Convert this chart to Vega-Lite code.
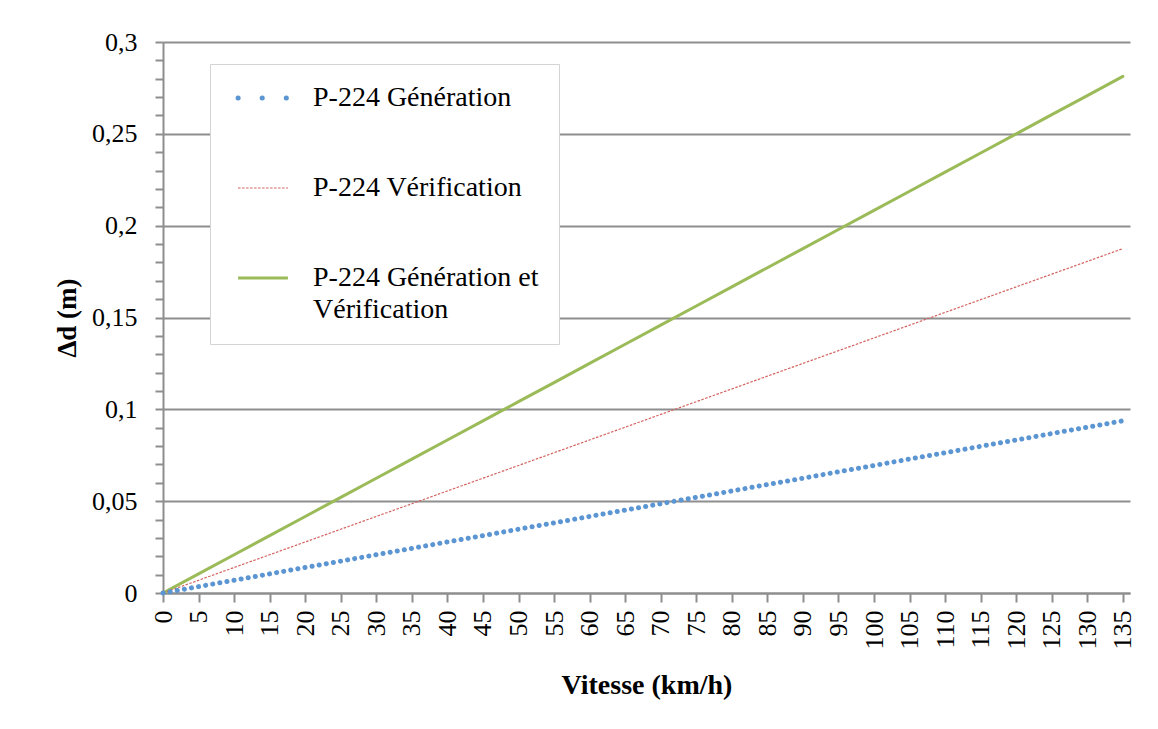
{
  "$schema": "https://vega.github.io/schema/vega-lite/v6.json",
  "autosize": {"type": "none"},
  "width": 967,
  "height": 551,
  "padding": {"left": 163, "top": 42, "right": 28, "bottom": 136},
  "background": "white",
  "config": {
    "view": {"stroke": null},
    "font": "Liberation Serif",
    "axis": {"labelFont": "Liberation Serif", "titleFont": "Liberation Serif", "labelColor": "black", "titleColor": "black"}
  },
  "data": {"values": [
    {"v": 0, "gen": 0, "ver": 0, "tot": 0},
    {"v": 5, "gen": 0.00347, "ver": 0.00694, "tot": 0.01042},
    {"v": 10, "gen": 0.00694, "ver": 0.01389, "tot": 0.02083},
    {"v": 15, "gen": 0.01042, "ver": 0.02083, "tot": 0.03125},
    {"v": 20, "gen": 0.01389, "ver": 0.02778, "tot": 0.04167},
    {"v": 25, "gen": 0.01736, "ver": 0.03472, "tot": 0.05208},
    {"v": 30, "gen": 0.02083, "ver": 0.04167, "tot": 0.0625},
    {"v": 35, "gen": 0.02431, "ver": 0.04861, "tot": 0.07292},
    {"v": 40, "gen": 0.02778, "ver": 0.05556, "tot": 0.08333},
    {"v": 45, "gen": 0.03125, "ver": 0.0625, "tot": 0.09375},
    {"v": 50, "gen": 0.03472, "ver": 0.06944, "tot": 0.10417},
    {"v": 55, "gen": 0.03819, "ver": 0.07639, "tot": 0.11458},
    {"v": 60, "gen": 0.04167, "ver": 0.08333, "tot": 0.125},
    {"v": 65, "gen": 0.04514, "ver": 0.09028, "tot": 0.13542},
    {"v": 70, "gen": 0.04861, "ver": 0.09722, "tot": 0.14583},
    {"v": 75, "gen": 0.05208, "ver": 0.10417, "tot": 0.15625},
    {"v": 80, "gen": 0.05556, "ver": 0.11111, "tot": 0.16667},
    {"v": 85, "gen": 0.05903, "ver": 0.11806, "tot": 0.17708},
    {"v": 90, "gen": 0.0625, "ver": 0.125, "tot": 0.1875},
    {"v": 95, "gen": 0.06597, "ver": 0.13194, "tot": 0.19792},
    {"v": 100, "gen": 0.06944, "ver": 0.13889, "tot": 0.20833},
    {"v": 105, "gen": 0.07292, "ver": 0.14583, "tot": 0.21875},
    {"v": 110, "gen": 0.07639, "ver": 0.15278, "tot": 0.22917},
    {"v": 115, "gen": 0.07986, "ver": 0.15972, "tot": 0.23958},
    {"v": 120, "gen": 0.08333, "ver": 0.16667, "tot": 0.25},
    {"v": 125, "gen": 0.08681, "ver": 0.17361, "tot": 0.26042},
    {"v": 130, "gen": 0.09028, "ver": 0.18056, "tot": 0.27083},
    {"v": 135, "gen": 0.09375, "ver": 0.1875, "tot": 0.28125}
  ]},
  "transform": [{"fold": ["gen", "ver", "tot"], "as": ["serie", "dd"]}],
  "encoding": {
    "x": {
      "field": "v", "type": "quantitative",
      "scale": {"domain": [0, 136], "nice": false, "zero": false},
      "axis": {
        "title": "Vitesse (km/h)",
        "values": [0,5,10,15,20,25,30,35,40,45,50,55,60,65,70,75,80,85,90,95,100,105,110,115,120,125,130,135],
        "labelAngle": 270,
        "labelFontSize": 26,
        "labelPadding": 8,
        "labelOverlap": false,
        "labelFlush": false,
        "tickSize": 9,
        "tickColor": "#8e8e8e",
        "tickWidth": 2,
        "domainColor": "#8e8e8e",
        "domainWidth": 2,
        "grid": false,
        "titleFontSize": 28,
        "titleFontWeight": "bold",
        "titlePadding": 22
      }
    },
    "y": {
      "field": "dd", "type": "quantitative",
      "scale": {"domain": [0, 0.3], "nice": false},
      "axis": {
        "title": "Δd (m)",
        "values": [0,0.01,0.02,0.03,0.04,0.05,0.06,0.07,0.08,0.09,0.1,0.11,0.12,0.13,0.14,0.15,0.16,0.17,0.18,0.19,0.2,0.21,0.22,0.23,0.24,0.25,0.26,0.27,0.28,0.29,0.3],
        "labelExpr": "round(datum.value*100) % 5 === 0 ? replace(format(datum.value, '.2~f'), '.', ',') : ''",
        "labelFontSize": 26,
        "labelPadding": 18,
        "labelOverlap": false,
        "labelFlush": false,
        "tickSize": 8,
        "tickColor": "#8e8e8e",
        "tickWidth": 2,
        "domainColor": "#8e8e8e",
        "domainWidth": 2,
        "grid": true,
        "gridColor": "#8e8e8e",
        "gridWidth": 2,
        "gridOpacity": {"condition": {"test": "round(datum.value*100) % 5 === 0", "value": 1}, "value": 0},
        "titleFontSize": 27,
        "titleFontWeight": "bold",
        "titlePadding": 10
      }
    },
    "color": {
      "field": "serie", "type": "nominal",
      "scale": {"domain": ["gen", "ver", "tot"], "range": ["#5b95d2", "#d4625e", "#9bbb59"]},
      "legend": {
        "title": null,
        "orient": "none",
        "legendX": 47,
        "legendY": 22,
        "fillColor": "white",
        "strokeColor": "#d4d4d4",
        "padding": 20,
        "symbolType": "M-0.33,0H2.44",
        "symbolSize": 1296,
        "labelFont": "Liberation Serif",
        "labelFontSize": 28,
        "labelColor": "black",
        "labelOffset": 55,
        "labelLimit": 400,
        "rowPadding": 62,
        "labelExpr": "datum.value === 'gen' ? 'P-224 Génération' : datum.value === 'ver' ? 'P-224 Vérification' : ['P-224 Génération et', 'Vérification']",
        "encode": {
          "symbols": {"update": {
            "fill": {"value": "transparent"},
            "strokeCap": {"signal": "datum.value === 'gen' ? 'round' : 'butt'"},
            "strokeDash": {"signal": "datum.value === 'gen' ? [0.1, 24] : datum.value === 'ver' ? [2.5, 1.5] : [1, 0]"},
            "strokeWidth": {"signal": "datum.value === 'gen' ? 5 : datum.value === 'ver' ? 1.2 : 3"}
          }},
          "labels": {"update": {"lineHeight": {"value": 32}}}
        }
      }
    }
  },
  "layer": [
    {
      "transform": [{"filter": "datum.serie === 'tot'"}],
      "mark": {"type": "line", "strokeWidth": 3, "strokeCap": "round", "strokeJoin": "round"}
    },
    {
      "transform": [{"filter": "datum.serie === 'ver'"}],
      "mark": {"type": "line", "strokeWidth": 1.2, "strokeDash": [2.5, 1.5]}
    },
    {
      "transform": [{"filter": "datum.serie === 'gen'"}],
      "mark": {"type": "line", "strokeWidth": 5, "strokeCap": "round", "strokeDash": [0.1, 7.11]}
    }
  ]
}
